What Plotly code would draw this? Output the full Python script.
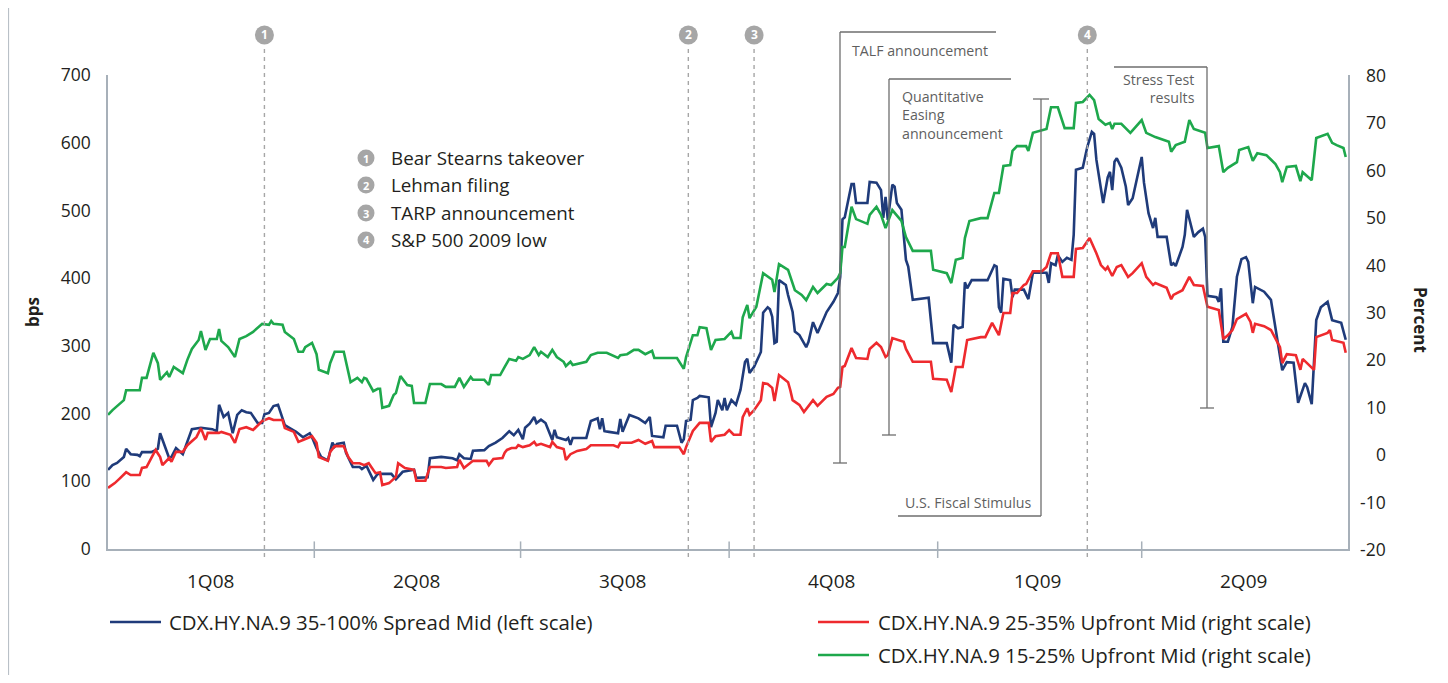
import plotly.graph_objects as go

# ---------------- data ----------------
blue_dates = ["2008-01-01","2008-01-03","2008-01-05","2008-01-08","2008-01-09","2008-01-11","2008-01-14","2008-01-15","2008-01-16","2008-01-20",
"2008-01-22","2008-01-23","2008-01-24","2008-01-26","2008-01-28","2008-01-29","2008-01-31","2008-02-03","2008-02-05","2008-02-07",
"2008-02-11","2008-02-16","2008-02-18","2008-02-19","2008-02-21","2008-02-23","2008-02-25","2008-02-27","2008-02-29","2008-03-02",
"2008-03-04","2008-03-07","2008-03-09","2008-03-10","2008-03-12","2008-03-14","2008-03-16","2008-03-18","2008-03-19","2008-03-21",
"2008-03-24","2008-03-27","2008-03-30","2008-03-31","2008-04-02","2008-04-04","2008-04-07","2008-04-09","2008-04-10","2008-04-11",
"2008-04-14","2008-04-15","2008-04-18","2008-04-21","2008-04-22","2008-04-24","2008-04-27","2008-04-29","2008-05-05","2008-05-07",
"2008-05-10","2008-05-15","2008-05-16","2008-05-21","2008-05-22","2008-05-27","2008-06-01","2008-06-03","2008-06-04","2008-06-06",
"2008-06-09","2008-06-10","2008-06-15","2008-06-17","2008-06-20","2008-06-23","2008-06-26","2008-06-28","2008-06-30","2008-07-02",
"2008-07-03","2008-07-05","2008-07-07","2008-07-08","2008-07-10","2008-07-12","2008-07-15","2008-07-16","2008-07-17","2008-07-21",
"2008-07-22","2008-07-23","2008-07-24","2008-07-30","2008-08-01","2008-08-04","2008-08-05","2008-08-06","2008-08-07","2008-08-09",
"2008-08-13","2008-08-14","2008-08-15","2008-08-18","2008-08-22","2008-08-25","2008-08-27","2008-08-28","2008-09-02","2008-09-03",
"2008-09-08","2008-09-10","2008-09-11","2008-09-12","2008-09-14","2008-09-15","2008-09-17","2008-09-18","2008-09-22","2008-09-23",
"2008-09-25","2008-09-26","2008-09-28","2008-09-29","2008-09-30","2008-10-02","2008-10-04","2008-10-06","2008-10-08","2008-10-09",
"2008-10-10","2008-10-12","2008-10-15","2008-10-16","2008-10-18","2008-10-19","2008-10-20","2008-10-21","2008-10-22","2008-10-23",
"2008-10-26","2008-10-27","2008-10-29","2008-10-30","2008-11-01","2008-11-04","2008-11-05","2008-11-07","2008-11-09","2008-11-13",
"2008-11-16","2008-11-18","2008-11-19","2008-11-20","2008-11-21","2008-11-24","2008-11-25","2008-11-26","2008-12-01","2008-12-02",
"2008-12-05","2008-12-07","2008-12-08","2008-12-09","2008-12-10","2008-12-12","2008-12-13","2008-12-14","2008-12-16","2008-12-17",
"2008-12-18","2008-12-19","2008-12-21","2008-12-28","2008-12-30","2009-01-05","2009-01-07","2009-01-08","2009-01-10","2009-01-12",
"2009-01-13","2009-01-14","2009-01-16","2009-01-23","2009-01-26","2009-01-27","2009-01-28","2009-01-29","2009-01-30","2009-02-02",
"2009-02-03","2009-02-04","2009-02-08","2009-02-10","2009-02-12","2009-02-18","2009-02-19","2009-02-20","2009-02-22","2009-02-23",
"2009-02-25","2009-02-27","2009-03-01","2009-03-02","2009-03-03","2009-03-06","2009-03-08","2009-03-10","2009-03-11","2009-03-12",
"2009-03-14","2009-03-15","2009-03-17","2009-03-18","2009-03-19","2009-03-20","2009-03-21","2009-03-23","2009-03-25","2009-03-26",
"2009-03-28","2009-03-30","2009-04-01","2009-04-02","2009-04-04","2009-04-06","2009-04-07","2009-04-08","2009-04-12","2009-04-14",
"2009-04-15","2009-04-16","2009-04-19","2009-04-20","2009-04-21","2009-04-24","2009-04-26","2009-04-28","2009-04-29","2009-04-30",
"2009-05-04","2009-05-05","2009-05-06","2009-05-07","2009-05-09","2009-05-11","2009-05-13","2009-05-15","2009-05-17","2009-05-18",
"2009-05-20","2009-05-21","2009-05-25","2009-05-28","2009-05-31","2009-06-02","2009-06-04","2009-06-07","2009-06-09","2009-06-12",
"2009-06-13","2009-06-15","2009-06-17","2009-06-19","2009-06-22","2009-06-24","2009-06-28","2009-06-30"]
blue_spread = [117,124,127,136,148,140,139,137,143,143,
146,148,171,151,134,136,149,140,160,177,
179,177,174,213,195,201,171,198,205,202,
201,186,186,199,201,211,213,195,183,179,
173,165,171,165,149,136,131,157,151,155,
157,142,121,121,118,123,102,111,111,103,
114,117,105,106,134,136,134,131,140,134,
133,145,146,152,157,164,174,168,176,162,
179,185,195,186,191,186,161,176,165,161,
164,154,164,164,189,193,177,193,174,173,
171,192,173,198,193,186,195,167,165,182,
182,157,162,189,191,220,223,226,224,180,
201,220,205,223,205,220,213,235,276,281,
260,269,291,349,357,354,343,304,306,397,
390,375,350,321,316,298,306,335,319,350,
365,378,402,487,490,539,539,511,511,542,
541,530,489,520,486,538,535,511,501,464,
427,417,368,371,304,304,275,331,326,328,
394,385,397,397,419,417,357,349,399,397,
372,383,383,369,408,408,393,422,419,434,
424,430,427,464,560,563,594,616,613,575,
530,511,549,557,530,572,577,563,535,508,
518,549,579,541,496,474,489,461,461,419,
422,418,446,464,501,461,468,473,461,374,
372,365,385,306,306,328,402,428,431,424,
363,387,380,368,309,264,276,275,216,245,
239,214,338,357,365,338,334,309]

red_dates = ["2008-01-01","2008-01-04","2008-01-06","2008-01-09","2008-01-11","2008-01-15","2008-01-16","2008-01-18","2008-01-22","2008-01-24",
"2008-01-25","2008-01-28","2008-01-29","2008-01-31","2008-02-03","2008-02-05","2008-02-09","2008-02-11","2008-02-13","2008-02-14",
"2008-02-19","2008-02-20","2008-02-24","2008-02-26","2008-02-28","2008-03-02","2008-03-05","2008-03-09","2008-03-12","2008-03-14",
"2008-03-18","2008-03-19","2008-03-23","2008-03-25","2008-03-27","2008-03-31","2008-04-02","2008-04-03","2008-04-07","2008-04-08",
"2008-04-10","2008-04-14","2008-04-16","2008-04-18","2008-04-21","2008-04-23","2008-04-25","2008-04-28","2008-04-30","2008-05-01",
"2008-05-04","2008-05-07","2008-05-08","2008-05-11","2008-05-15","2008-05-16","2008-05-20","2008-05-22","2008-05-27","2008-05-29",
"2008-06-03","2008-06-04","2008-06-06","2008-06-09","2008-06-10","2008-06-16","2008-06-17","2008-06-19","2008-06-23","2008-06-24",
"2008-06-25","2008-06-27","2008-06-29","2008-06-30","2008-07-02","2008-07-05","2008-07-07","2008-07-08","2008-07-10","2008-07-14",
"2008-07-15","2008-07-17","2008-07-20","2008-07-21","2008-07-23","2008-07-26","2008-07-30","2008-08-01","2008-08-11","2008-08-13",
"2008-08-14","2008-08-19","2008-08-22","2008-08-25","2008-08-28","2008-08-29","2008-09-09","2008-09-11","2008-09-12","2008-09-15",
"2008-09-18","2008-09-22","2008-09-23","2008-09-25","2008-09-29","2008-10-01","2008-10-03","2008-10-06","2008-10-07","2008-10-09",
"2008-10-10","2008-10-12","2008-10-15","2008-10-16","2008-10-18","2008-10-20","2008-10-21","2008-10-23","2008-10-27","2008-10-28",
"2008-10-29","2008-11-01","2008-11-03","2008-11-07","2008-11-09","2008-11-13","2008-11-16","2008-11-18","2008-11-19","2008-11-20",
"2008-11-21","2008-11-24","2008-11-26","2008-12-01","2008-12-02","2008-12-05","2008-12-07","2008-12-09","2008-12-10","2008-12-12",
"2008-12-17","2008-12-18","2008-12-21","2008-12-29","2008-12-30","2009-01-05","2009-01-07","2009-01-09","2009-01-12","2009-01-14",
"2009-01-20","2009-01-22","2009-01-25","2009-01-28","2009-01-30","2009-02-02","2009-02-03","2009-02-05","2009-02-08","2009-02-09",
"2009-02-12","2009-02-16","2009-02-18","2009-02-20","2009-02-23","2009-02-25","2009-03-02","2009-03-03","2009-03-06","2009-03-09",
"2009-03-10","2009-03-12","2009-03-14","2009-03-16","2009-03-17","2009-03-19","2009-03-21","2009-03-23","2009-03-26","2009-03-28",
"2009-04-01","2009-04-03","2009-04-06","2009-04-07","2009-04-12","2009-04-14","2009-04-15","2009-04-19","2009-04-22","2009-04-24",
"2009-04-28","2009-04-29","2009-04-30","2009-05-05","2009-05-07","2009-05-09","2009-05-11","2009-05-13","2009-05-17","2009-05-19",
"2009-05-20","2009-05-21","2009-05-25","2009-05-28","2009-06-01","2009-06-02","2009-06-04","2009-06-08","2009-06-10","2009-06-11",
"2009-06-16","2009-06-17","2009-06-22","2009-06-23","2009-06-24","2009-06-29","2009-06-30"]
red_upfront = [-7.1,-6.1,-5.2,-3.8,-4.4,-4.4,-2.9,-2.7,0.9,-0.6,
-2.3,-0.8,-1.6,0.5,0.5,1.9,3.6,5.5,3.0,4.5,
4.5,4.7,4.1,2.4,5.3,5.7,5.1,7.0,7.6,7.2,
7.2,5.5,4.7,2.6,3.0,3.8,2.4,-0.6,-1.4,0.5,
1.7,1.7,-0.6,-1.9,-1.9,-2.3,-1.9,-4.0,-3.8,-6.5,
-6.1,-4.8,-1.9,-2.9,-3.3,-5.6,-5.6,-2.7,-2.7,-2.9,
-2.7,-1.2,-2.9,-1.9,-1.4,-1.4,-2.3,-1.0,-0.8,0.3,
0.9,1.3,1.3,1.9,1.5,1.9,2.6,1.9,2.2,1.5,
2.6,1.5,1.1,-1.2,0.0,0.7,1.1,1.9,1.9,1.5,
2.4,2.4,3.0,2.2,2.8,1.5,1.5,0.0,1.5,4.9,
6.6,6.6,2.6,3.8,4.1,5.1,4.1,4.1,7.8,9.7,
8.3,9.3,11.4,15.0,14.8,14.0,11.2,16.7,15.2,13.5,
11.4,10.4,8.9,11.4,10.2,12.1,12.7,14.0,14.2,18.4,
18.6,22.4,20.3,20.1,22.2,23.5,22.6,20.5,20.9,24.5,
23.7,22.2,19.5,19.5,15.9,15.7,13.1,18.4,18.4,24.1,
24.7,24.7,27.7,25.1,29.8,29.8,34.0,34.0,35.7,35.9,
38.6,38.6,39.5,42.4,42.4,37.4,37.4,43.3,43.5,45.6,
44.6,42.4,39.9,38.9,39.5,37.6,39.5,39.9,37.4,38.2,
40.3,37.4,35.7,36.1,35.1,32.7,33.6,34.6,37.4,35.7,
35.5,33.4,31.1,30.4,24.3,25.1,26.2,28.5,29.6,27.9,
25.6,27.5,27.0,26.2,22.6,19.2,21.1,20.9,17.8,20.1,
17.8,24.7,25.6,26.2,24.1,23.5,21.4]

green_dates = ["2008-01-01","2008-01-03","2008-01-08","2008-01-09","2008-01-15","2008-01-16","2008-01-18","2008-01-21","2008-01-23","2008-01-24",
"2008-01-27","2008-01-28","2008-01-30","2008-02-03","2008-02-05","2008-02-07","2008-02-10","2008-02-11","2008-02-13","2008-02-15",
"2008-02-18","2008-02-19","2008-02-20","2008-02-23","2008-02-26","2008-02-28","2008-03-02","2008-03-05","2008-03-09","2008-03-12",
"2008-03-13","2008-03-14","2008-03-18","2008-03-19","2008-03-23","2008-03-25","2008-03-27","2008-03-28","2008-03-31","2008-04-02",
"2008-04-03","2008-04-07","2008-04-08","2008-04-10","2008-04-14","2008-04-17","2008-04-20","2008-04-22","2008-04-23","2008-04-24",
"2008-04-27","2008-04-29","2008-04-30","2008-05-01","2008-05-04","2008-05-06","2008-05-07","2008-05-09","2008-05-12","2008-05-14",
"2008-05-15","2008-05-20","2008-05-22","2008-05-27","2008-05-29","2008-06-02","2008-06-04","2008-06-06","2008-06-09","2008-06-10",
"2008-06-15","2008-06-17","2008-06-18","2008-06-22","2008-06-24","2008-06-26","2008-06-29","2008-06-30","2008-07-02","2008-07-05",
"2008-07-07","2008-07-09","2008-07-10","2008-07-13","2008-07-15","2008-07-17","2008-07-20","2008-07-21","2008-07-23","2008-07-24",
"2008-07-30","2008-08-01","2008-08-04","2008-08-08","2008-08-13","2008-08-14","2008-08-17","2008-08-20","2008-08-22","2008-08-25",
"2008-08-28","2008-08-29","2008-09-08","2008-09-11","2008-09-12","2008-09-15","2008-09-17","2008-09-18","2008-09-21","2008-09-23",
"2008-09-25","2008-09-29","2008-10-02","2008-10-03","2008-10-06","2008-10-07","2008-10-09","2008-10-10","2008-10-13","2008-10-16",
"2008-10-20","2008-10-21","2008-10-23","2008-10-27","2008-10-30","2008-11-02","2008-11-04","2008-11-07","2008-11-09","2008-11-13",
"2008-11-15","2008-11-18","2008-11-19","2008-11-20","2008-11-21","2008-11-24","2008-11-26","2008-12-01","2008-12-02","2008-12-05",
"2008-12-07","2008-12-09","2008-12-12","2008-12-16","2008-12-18","2008-12-21","2008-12-29","2008-12-30","2009-01-05","2009-01-07",
"2009-01-09","2009-01-12","2009-01-13","2009-01-15","2009-01-20","2009-01-23","2009-01-26","2009-01-28","2009-01-30","2009-02-02",
"2009-02-03","2009-02-05","2009-02-09","2009-02-10","2009-02-12","2009-02-18","2009-02-20","2009-02-23","2009-02-26","2009-03-02",
"2009-03-03","2009-03-06","2009-03-09","2009-03-11","2009-03-13","2009-03-16","2009-03-18","2009-03-19","2009-03-20","2009-03-23",
"2009-03-27","2009-04-01","2009-04-03","2009-04-07","2009-04-13","2009-04-14","2009-04-16","2009-04-20","2009-04-22","2009-04-24",
"2009-04-29","2009-04-30","2009-05-05","2009-05-07","2009-05-09","2009-05-13","2009-05-14","2009-05-18","2009-05-20","2009-05-22",
"2009-05-26","2009-05-30","2009-06-01","2009-06-02","2009-06-04","2009-06-08","2009-06-10","2009-06-11","2009-06-15","2009-06-17",
"2009-06-22","2009-06-24","2009-06-26","2009-06-29","2009-06-30"]
green_upfront = [8.3,9.3,11.4,13.5,13.5,16.1,16.1,21.4,19.2,15.7,
17.3,16.3,18.4,17.1,19.9,22.2,24.1,26.0,22.0,24.3,
24.3,26.4,23.9,22.6,20.5,24.3,24.9,25.8,27.5,27.3,
28.1,27.5,27.3,25.8,24.3,21.6,21.6,22.6,23.5,21.1,
17.8,17.1,19.2,21.6,21.6,15.2,16.1,15.2,16.1,15.9,
13.3,13.8,13.8,9.8,10.2,12.5,12.9,16.5,14.6,14.4,
10.8,10.8,14.8,14.8,14.2,14.2,16.1,14.2,16.3,15.7,
15.7,14.6,16.7,16.7,18.4,20.1,19.7,20.5,20.1,20.9,
22.6,20.9,21.6,20.5,22.0,20.5,19.5,18.6,19.5,18.8,
19.5,20.9,21.4,21.4,20.3,20.9,21.1,22.0,22.0,21.1,
21.8,20.3,20.3,18.0,20.5,25.1,25.1,26.8,26.6,22.0,
24.1,24.3,25.8,24.5,24.5,28.9,31.5,28.7,31.1,38.2,
36.8,34.2,40.1,38.9,34.6,33.6,32.5,35.3,34.0,35.9,
35.7,37.2,38.2,43.7,43.7,52.2,49.6,48.6,50.5,52.2,
50.5,47.7,51.5,49.2,45.8,42.9,42.9,38.9,38.2,36.1,
41.0,41.4,45.6,49.2,49.8,49.8,55.1,55.1,60.8,61.0,
64.0,65.0,65.0,64.0,67.8,68.6,73.2,73.2,68.8,68.8,
74.1,74.3,75.8,74.7,70.7,69.5,69.9,68.6,69.7,69.7,
67.8,70.5,67.8,66.9,65.9,63.8,65.2,65.9,70.5,68.6,
67.8,64.6,65.0,59.5,60.4,61.6,64.2,64.8,61.9,63.5,
63.1,61.2,59.5,57.4,60.6,60.8,57.6,59.5,57.8,66.7,
67.6,65.7,65.2,64.6,62.7]

series_names = ["CDX.HY.NA.9 35-100% Spread Mid (left scale)",
                "CDX.HY.NA.9 25-35% Upfront Mid (right scale)",
                "CDX.HY.NA.9 15-25% Upfront Mid (right scale)"]
series_colors = ["#1f3b7a", "#ee2a2e", "#1ea84c"]

quarter_bounds = ["2008-01-01", "2008-04-01", "2008-07-01", "2008-10-01", "2009-01-01", "2009-04-01", "2009-07-01"]
quarter_mids = ["2008-02-15", "2008-05-16", "2008-08-15", "2008-11-15", "2009-02-14", "2009-05-16"]
quarter_labels = ["1Q08", "2Q08", "3Q08", "4Q08", "1Q09", "2Q09"]

event_dates = ["2008-03-10", "2008-09-13", "2008-10-12", "2009-03-08"]
event_labels = ["Bear Stearns takeover", "Lehman filing", "TARP announcement", "S&P 500 2009 low"]

left_ticks = [0, 100, 200, 300, 400, 500, 600, 700]
right_ticks = [-20, -10, 0, 10, 20, 30, 40, 50, 60, 70, 80]

# ---------------- page geometry (decorations only) ----------------
# the page body has an 8px margin, so the figure is drawn at (8, 8)
OFF = 8
PLOT_L, PLOT_R, PLOT_T, PLOT_B = 108, 1348, 75, 549   # plot area in page pixels
W, H = 1440, 667
ML, MT = PLOT_L - OFF, PLOT_T - OFF
MR = W - (PLOT_R - OFF)
MB = H - (PLOT_B - OFF)
PW, PH = PLOT_R - PLOT_L, PLOT_B - PLOT_T


def px(xp):
    return (xp - PLOT_L) / PW


def py(yp):
    return (PLOT_B - yp) / PH


FONT = "Open Sans"
TXT = "#231f20"
GREY_TXT = "#5f5f5f"
AXIS_COL = "#a7b0b9"
EVENT_COL = "#a6a6a6"
BOX_COL = "#6e6e6e"

fig = go.Figure()
fig.add_trace(go.Scatter(x=blue_dates, y=blue_spread, mode="lines", name=series_names[0],
                         line=dict(color=series_colors[0], width=2.6), yaxis="y", showlegend=False))
fig.add_trace(go.Scatter(x=red_dates, y=red_upfront, mode="lines", name=series_names[1],
                         line=dict(color=series_colors[1], width=2.6), yaxis="y2", showlegend=False))
fig.add_trace(go.Scatter(x=green_dates, y=green_upfront, mode="lines", name=series_names[2],
                         line=dict(color=series_colors[2], width=2.6), yaxis="y2", showlegend=False))

shapes = []
annotations = []

# quarter tick marks crossing the x axis
for d in quarter_bounds[1:-1]:
    shapes.append(dict(type="line", xref="x", yref="paper", x0=d, x1=d,
                       y0=-0.019, y1=0.016, line=dict(color=AXIS_COL, width=1.5)))
# quarter labels
for d, lab in zip(quarter_mids, quarter_labels):
    annotations.append(dict(x=d, xref="x", y=py(581), yref="paper", text=lab, showarrow=False,
                            font=dict(family=FONT, size=19, color=TXT), xanchor="center", yanchor="middle"))

# event dashed lines and numbered circles
for i, d in enumerate(event_dates):
    shapes.append(dict(type="line", xref="x", yref="paper", x0=d, x1=d, y0=-0.017, y1=py(45),
                       line=dict(color=EVENT_COL, width=1.4, dash="4px,4px")))
    shapes.append(dict(type="circle", xref="x", yref="paper", xsizemode="pixel", ysizemode="pixel",
                       xanchor=d, yanchor=py(35), x0=-9.5, x1=9.5, y0=-9.5, y1=9.5,
                       fillcolor=EVENT_COL, line=dict(width=0)))
    annotations.append(dict(x=d, xref="x", y=py(35), yref="paper", text="<b>%d</b>" % (i + 1), showarrow=False,
                            font=dict(family=FONT, size=12, color="white"), xanchor="center", yanchor="middle"))

# event key list
key_y = [158, 185, 213, 240]
for i, (lab, yy) in enumerate(zip(event_labels, key_y)):
    shapes.append(dict(type="circle", xref="paper", yref="paper", xsizemode="pixel", ysizemode="pixel",
                       xanchor=px(366), yanchor=py(yy), x0=-8.5, x1=8.5, y0=-8.5, y1=8.5,
                       fillcolor=EVENT_COL, line=dict(width=0)))
    annotations.append(dict(x=px(366), xref="paper", y=py(yy), yref="paper", text="<b>%d</b>" % (i + 1),
                            showarrow=False, font=dict(family=FONT, size=11, color="white"),
                            xanchor="center", yanchor="middle"))
    annotations.append(dict(x=px(389), xref="paper", y=py(yy), yref="paper", text=lab, showarrow=False,
                            font=dict(family=FONT, size=18.8, color=TXT), xanchor="left", yanchor="middle"))


# policy annotation brackets
def seg(x0, y0, x1, y1):
    shapes.append(dict(type="line", xref="paper", yref="paper", x0=px(x0), y0=py(y0), x1=px(x1), y1=py(y1),
                       line=dict(color=BOX_COL, width=1.3)))


# TALF
seg(996, 32, 840, 32); seg(840, 32, 840, 463); seg(833, 463, 847, 463)
# Quantitative easing
seg(1011, 79, 889, 79); seg(889, 79, 889, 435); seg(882, 435, 896, 435)
# Fiscal stimulus
seg(1033, 99, 1049, 99); seg(1041, 99, 1041, 516); seg(1041, 516, 898, 516)
# Stress test
seg(1114, 67, 1207, 67); seg(1207, 67, 1207, 408); seg(1200, 408, 1214, 408)

box_font = dict(family=FONT, size=14.2, color=GREY_TXT)
annotations.append(dict(x=px(850), y=py(50), xref="paper", yref="paper", text="TALF announcement",
                        showarrow=False, font=box_font, xanchor="left", yanchor="middle"))
annotations.append(dict(x=px(900), y=py(115), xref="paper", yref="paper",
                        text="Quantitative<br>Easing<br>announcement", align="left",
                        showarrow=False, font=box_font, xanchor="left", yanchor="middle"))
annotations.append(dict(x=px(968), y=py(502), xref="paper", yref="paper", text="U.S. Fiscal Stimulus",
                        showarrow=False, font=box_font, xanchor="center", yanchor="middle"))
annotations.append(dict(x=px(1197), y=py(89), xref="paper", yref="paper", text="Stress Test<br>results",
                        align="right", showarrow=False, font=box_font, xanchor="right", yanchor="middle"))

# right axis labels (right aligned like the original)
for v in right_ticks:
    annotations.append(dict(x=px(1388), xref="paper", y=v, yref="y2", text=str(v), showarrow=False,
                            font=dict(family=FONT, size=17.5, color=TXT), xanchor="right", yanchor="middle"))

# axis titles
annotations.append(dict(x=px(32), y=py(312), xref="paper", yref="paper", text="<b>bps</b>", textangle=-90,
                        showarrow=False, font=dict(family=FONT, size=17, color=TXT),
                        xanchor="center", yanchor="middle"))
annotations.append(dict(x=px(1421), y=py(320), xref="paper", yref="paper", text="<b>Percent</b>", textangle=90,
                        showarrow=False, font=dict(family=FONT, size=17, color=TXT),
                        xanchor="center", yanchor="middle"))

# manual legend
legend_rows = [(110, 161, 167, 622), (818, 869, 876, 622), (818, 869, 876, 655)]
for (lx0, lx1, tx, ly), name, col in zip(legend_rows, series_names, series_colors):
    shapes.append(dict(type="line", xref="paper", yref="paper", x0=px(lx0), x1=px(lx1), y0=py(ly), y1=py(ly),
                       line=dict(color=col, width=2.6)))
    annotations.append(dict(x=px(tx), y=py(ly), xref="paper", yref="paper", text=name, showarrow=False,
                            font=dict(family=FONT, size=20.4, color=TXT), xanchor="left", yanchor="middle"))

# outer frame (left and right edges)
for xe in (8.5, 1445):
    shapes.append(dict(type="line", xref="paper", yref="paper", x0=px(xe), x1=px(xe), y0=py(683), y1=py(0),
                       line=dict(color="#b9c0c7", width=1.2)))

fig.update_layout(
    width=W, height=H,
    margin=dict(l=ML, r=MR, t=MT, b=MB, autoexpand=False),
    paper_bgcolor="white", plot_bgcolor="white",
    font=dict(family=FONT, color=TXT),
    xaxis=dict(type="date", range=[quarter_bounds[0], quarter_bounds[-1]], showgrid=False, zeroline=False,
               showline=True, linecolor=AXIS_COL, linewidth=1.5, showticklabels=False, ticks=""),
    yaxis=dict(range=[0, 700], tickvals=left_ticks, showgrid=False, zeroline=False, showline=True,
               linecolor=AXIS_COL, linewidth=1.5, ticks="", tickfont=dict(family=FONT, size=17.5, color=TXT),
               ticklabelstandoff=12),
    yaxis2=dict(range=[-20, 80], tickvals=right_ticks, overlaying="y", side="right", showgrid=False,
                zeroline=False, showline=True, linecolor=AXIS_COL, linewidth=1.5, ticks="",
                showticklabels=False),
    shapes=shapes,
    annotations=annotations,
    showlegend=False,
)

fig.write_html("out.html")
